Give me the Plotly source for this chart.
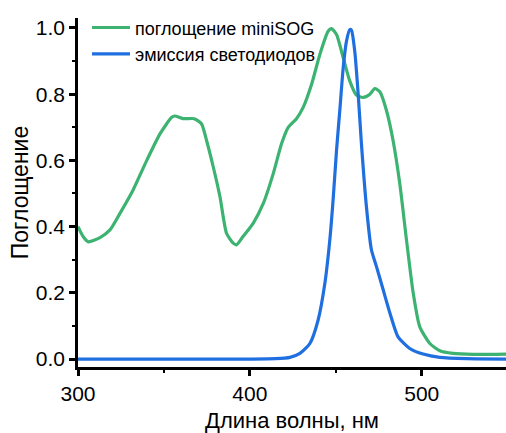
import plotly.graph_objects as go

# Absorption of miniSOG
abs_wl = [300, 303, 306, 312.8, 318.6, 324.4, 332, 340, 347.7, 354.5, 356.4, 361, 367.6, 371.9,
          374.8, 378.7, 382.6, 386.4, 390.3, 392.2, 396, 401.9, 407.8, 413.6, 418.4, 422.3,
          427.1, 431, 435.9, 440.7, 445.5, 447.5, 450.4, 454.3, 458.1, 462, 465.9, 469.8,
          472.7, 475.6, 479.5, 483.3, 487.2, 491.1, 495, 498.8, 504.7, 510.5, 518.2, 529.8, 549]
abs_val = [0.40, 0.37, 0.354, 0.367, 0.39, 0.44, 0.51, 0.60, 0.68, 0.73, 0.734, 0.726, 0.726, 0.71,
           0.66, 0.58, 0.49, 0.38, 0.35, 0.345, 0.37, 0.41, 0.47, 0.56, 0.65, 0.70,
           0.726, 0.76, 0.83, 0.92, 0.99, 0.998, 0.98, 0.91, 0.84, 0.797, 0.79, 0.80,
           0.817, 0.807, 0.75, 0.66, 0.53, 0.36, 0.20, 0.098, 0.047, 0.025, 0.017, 0.014, 0.015]

# LED emission
em_wl = [300, 350, 400, 415, 423.3, 429.1, 434.9, 439.7, 443.6, 446.5, 448.4, 450.4, 452.3,
         454.3, 456.2, 458.1, 459.1, 461.0, 463, 464.9, 467.8, 470.7, 473.6, 477.5, 481.4,
         486.2, 493, 500.8, 510.5, 526, 549]
em_val = [0, 0, 0, 0.001, 0.005, 0.017, 0.047, 0.118, 0.228, 0.36, 0.48, 0.63, 0.75,
          0.88, 0.96, 0.995, 0.993, 0.93, 0.80, 0.65, 0.46, 0.33, 0.28, 0.21, 0.14,
          0.067, 0.032, 0.015, 0.005, 0.001, 0]

x_ticks = [300, 400, 500]
y_ticks = [0.0, 0.2, 0.4, 0.6, 0.8, 1.0]

fig = go.Figure()
fig.add_trace(go.Scatter(x=abs_wl, y=abs_val, mode="lines", name="поглощение miniSOG",
                         line=dict(color="#3cb371", width=3.2, shape="spline", smoothing=0.6)))
fig.add_trace(go.Scatter(x=em_wl, y=em_val, mode="lines", name="эмиссия светодиодов",
                         line=dict(color="#1f6fe0", width=3.2, shape="spline", smoothing=0.6)))

fam = "Liberation Sans, Arial, sans-serif"
fig.update_layout(
    width=506, height=433,
    margin=dict(l=78, r=0, t=18, b=66),
    paper_bgcolor="white", plot_bgcolor="white",
    font=dict(family=fam, size=20, color="black"),
    showlegend=True,
    legend=dict(x=0.021, y=1.025, xanchor="left", yanchor="top",
                bgcolor="rgba(0,0,0,0)", font=dict(size=18, color="black"),
                tracegroupgap=0, itemwidth=38),
    xaxis=dict(range=[300, 549], tickvals=x_ticks, ticktext=[str(v) for v in x_ticks],
               automargin=False,
               showgrid=False, zeroline=False, showline=True, linecolor="black", linewidth=2.5,
               ticks="outside", ticklen=6, tickwidth=2.5, tickcolor="black",
               minor=dict(tickvals=[350, 450], ticks="outside", ticklen=3, tickwidth=2, tickcolor="black"),
               title=dict(text="Длина волны, нм", font=dict(size=22), standoff=12),
               tickfont=dict(size=21)),
    yaxis=dict(range=[-0.024, 1.03], tickvals=y_ticks, ticktext=[f"{v:.1f}" for v in y_ticks],
               automargin=False,
               showgrid=False, zeroline=False, showline=True, linecolor="black", linewidth=2.5,
               ticks="outside", ticklen=6, tickwidth=2.5, tickcolor="black",
               minor=dict(tickvals=[0.1, 0.3, 0.5, 0.7, 0.9], ticks="outside", ticklen=3, tickwidth=2, tickcolor="black"),
               title=dict(text="Поглощение", font=dict(size=23), standoff=1),
               tickfont=dict(size=21)),
)
fig.write_html("out.html", config={"displayModeBar": False},
               post_script="document.body.style.margin='0';document.body.style.overflow='hidden';")
